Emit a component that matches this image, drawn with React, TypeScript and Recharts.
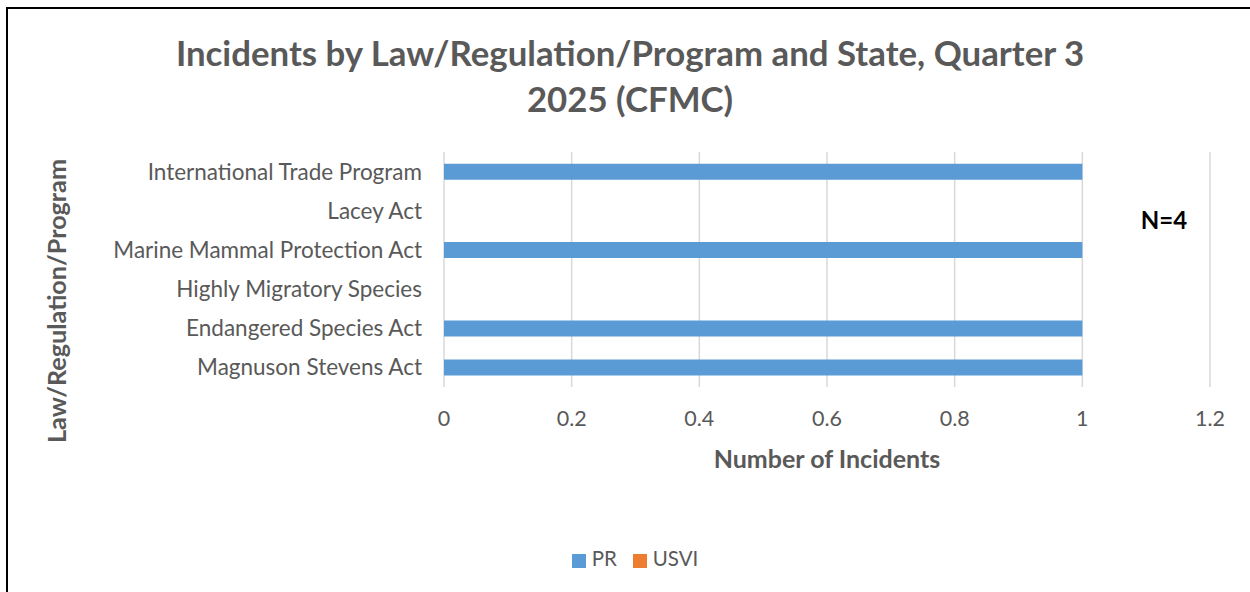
import React from "react";
import { Bar, BarChart, CartesianGrid, Legend, XAxis, YAxis } from "recharts";

const categories = [
  "International Trade Program",
  "Lacey Act",
  "Marine Mammal Protection Act",
  "Highly Migratory Species",
  "Endangered Species Act",
  "Magnuson Stevens Act",
];
const prValues = [1, 0, 1, 0, 1, 1];
const usviValues = [0, 0, 0, 0, 0, 0];
const xTicks = [0, 0.2, 0.4, 0.6, 0.8, 1, 1.2];

const data = categories.map((name, i) => ({
  name,
  PR: prValues[i],
  USVI: usviValues[i],
}));

const FONT = "Lato, 'Open Sans', sans-serif";
const GRAY = "#595959";

export default function App() {
  return (
    <div style={{ position: "fixed", left: 0, top: 0, width: 1250, height: 592, background: "#fff", overflow: "hidden", fontFamily: FONT }}>
      <div
        style={{
          position: "absolute",
          left: 6,
          top: 7,
          width: 1300,
          height: 700,
          border: "2px solid #000",
          boxSizing: "border-box",
        }}
      />
      <div style={{ position: "absolute", left: 0, top: 0 }}>
        <BarChart
          width={1250}
          height={592}
          data={data}
          layout="vertical"
          barCategoryGap="30%"
          margin={{ top: 152, right: 40, bottom: 24, left: 90 }}
        >
          <CartesianGrid horizontal={false} stroke="#d9d9d9" strokeWidth={1.5} />
          <XAxis
            type="number"
            domain={[0, 1.2]}
            ticks={xTicks}
            axisLine={false}
            tickLine={false}
            tickMargin={18}
            height={157}
            tick={{ fill: GRAY, fontSize: 21.5, fontFamily: FONT }}
            label={{
              value: "Number of Incidents",
              position: "insideTop",
              offset: 63,
              fill: GRAY,
              fontSize: 25,
              fontWeight: 700,
              fontFamily: FONT,
            }}
          />
          <YAxis
            type="category"
            dataKey="name"
            width={354}
            axisLine={false}
            tickLine={false}
            tickMargin={16}
            tick={{ fill: GRAY, fontSize: 22.5, fontFamily: FONT }}
          />
          <Legend
            verticalAlign="bottom"
            iconType="square"
            iconSize={14}
            wrapperStyle={{ left: 8, width: 1270, top: 546, fontSize: 20.5, fontFamily: FONT }}
            formatter={(v) => (
              <span style={{ color: GRAY, paddingLeft: 2, paddingRight: 6 }}>{v}</span>
            )}
          />
          <Bar dataKey="PR" stackId="a" fill="#5B9BD5" isAnimationActive={false} />
          <Bar dataKey="USVI" stackId="a" fill="#ED7D31" isAnimationActive={false} />
        </BarChart>
      </div>
      <svg width={1250} height={592} style={{ position: "absolute", left: 0, top: 0, pointerEvents: "none" }}>
        <text x={630} y={66} textAnchor="middle" fill={GRAY} fontSize={34.8} fontWeight={700} fontFamily={FONT}>
          Incidents by Law/Regulation/Program and State, Quarter 3
        </text>
        <text x={630} y={112} textAnchor="middle" fill={GRAY} fontSize={34.8} fontWeight={700} fontFamily={FONT}>
          2025 (CFMC)
        </text>
        <text
          x={0}
          y={0}
          transform="translate(66,301) rotate(-90)"
          textAnchor="middle"
          fill={GRAY}
          fontSize={25.2}
          fontWeight={700}
          fontFamily={FONT}
        >
          Law/Regulation/Program
        </text>
        <text x={1164} y={229} textAnchor="middle" fill="#000" fontSize={24} fontWeight={700} fontFamily={FONT}>
          N=4
        </text>
      </svg>
    </div>
  );
}
